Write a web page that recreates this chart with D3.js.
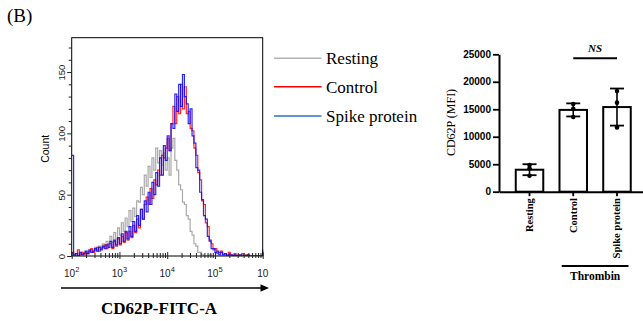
<!DOCTYPE html>
<html>
<head>
<meta charset="utf-8">
<script src="https://cdn.jsdelivr.net/npm/d3@7"></script>
<style>
  body { margin: 0; background: #fff; }
  svg { display: block; }
</style>
</head>
<body>
<svg id="chart" width="643" height="321"></svg>
<script>
// ── data ──────────────────────────────────────────────
// histogram bins: log10(FITC) from 2.00 in steps of 0.04 (101 bins)
const HIST_START = 2;
const HIST_STEP = 0.04;

const restingCounts = [
  2, 0, 1, 0, 2, 1, 3, 2, 4, 3,
  5, 4, 7, 5, 8, 7, 10, 8, 12, 9,
  16, 11, 19, 14, 23, 17, 27, 20, 31, 24,
  37, 28, 39, 32, 45, 44, 56, 50, 66, 57,
  73, 64, 80, 70, 88, 76, 86, 74, 84, 70,
  80, 66, 88, 96, 78, 70, 58, 54, 44, 42,
  33, 30, 20, 17, 10, 8, 3, 3, 1, 0,
  0, 0, 1, 0, 0, 0, 0, 0, 0, 0,
  0, 0, 0, 0, 0, 0, 0, 0, 0, 0,
  0, 0, 0, 0, 0, 0, 0, 0, 0, 0,
  0
];
const controlCounts = [
  3, 0, 2, 5, 1, 3, 1, 3, 2, 4,
  6, 3, 5, 7, 4, 6, 7, 9, 6, 10,
  10, 6, 12, 8, 14, 9, 16, 11, 19, 13,
  20, 15, 25, 19, 30, 23, 38, 30, 42, 48,
  42, 55, 47, 62, 58, 70, 66, 82, 80, 88,
  96, 86, 108, 122, 108, 130, 116, 140, 120, 138,
  116, 118, 104, 102, 88, 82, 68, 62, 45, 42,
  27, 24, 12, 10, 5, 6, 2, 3, 4, 1,
  2, 1, 3, 1, 0, 2, 0, 1, 0, 2,
  0, 1, 0, 0, 0, 0, 0, 0, 0, 0,
  1
];
const spikeCounts = [
  82, 1, 2, 0, 3, 1, 2, 4, 2, 5,
  3, 4, 6, 4, 7, 5, 8, 6, 9, 7,
  12, 7, 13, 9, 15, 10, 18, 12, 20, 14,
  24, 16, 28, 20, 33, 25, 38, 30, 45, 36,
  52, 42, 60, 50, 68, 57, 80, 66, 90, 78,
  98, 86, 108, 104, 132, 118, 140, 122, 148, 130,
  124, 108, 120, 98, 92, 72, 70, 52, 46, 33,
  30, 16, 13, 6, 6, 3, 4, 1, 3, 1,
  2, 0, 1, 1, 0, 1, 0, 0, 1, 0,
  0, 0, 1, 0, 0, 0, 0, 0, 0, 0,
  5
];
const histDecades = [2, 3, 4, 5, 6];
const histCountTicks = [0, 50, 100, 150];

// bar chart (MFI, three replicates each)
const groups = ['Resting', 'Control', 'Spike protein'];
const restingMFI = [4850, 4250, 2900];
const controlMFI = [15950, 15100, 13600];
const spikeMFI = [18300, 16200, 11700];
const mfiTicks = [0, 5000, 10000, 15000, 20000, 25000];

// ── setup ─────────────────────────────────────────────
const SERIF = '"Liberation Serif","Times New Roman",serif';
const SANS = '"Liberation Sans",Arial,sans-serif';
const svg = d3.select('#chart');

svg.append('text')
  .attr('x', 7).attr('y', 21.5)
  .style('font-family', SERIF).style('font-size', '19px')
  .text('(B)');

// ── histogram ─────────────────────────────────────────
const H = { left: 71.7, right: 262.7, top: 37.7, bottom: 256 };
const xH = d3.scaleLog().domain([1e2, 1e6]).range([H.left, H.right]);
const yH = d3.scaleLinear().domain([0, 178]).range([H.bottom, H.top]);

svg.append('clipPath').attr('id', 'hclip')
  .append('rect')
  .attr('x', H.left).attr('y', H.top - 2)
  .attr('width', H.right - H.left + 1).attr('height', H.bottom - H.top + 2);

const series = [
  { name: 'Resting', counts: restingCounts, color: '#a0a0a0', legend: '#b3b3b3' },
  { name: 'Control', counts: controlCounts, color: '#ff1010', legend: '#ff0000' },
  { name: 'Spike protein', counts: spikeCounts, color: '#1010ff', legend: '#2a72c8' },
];

const histLine = d3.line()
  .x((d, i) => xH(Math.pow(10, HIST_START + i * HIST_STEP)))
  .y(d => yH(d))
  .curve(d3.curveStepAfter);

svg.append('g').attr('clip-path', 'url(#hclip)')
  .selectAll('path')
  .data(series)
  .join('path')
  .attr('d', d => histLine(d.counts))
  .attr('fill', 'none')
  .attr('stroke', d => d.color)
  .attr('stroke-width', 1.2)
  .attr('stroke-opacity', 0.9);

// frame
svg.append('rect')
  .attr('x', H.left).attr('y', H.top)
  .attr('width', H.right - H.left).attr('height', H.bottom - H.top)
  .attr('fill', 'none').attr('stroke', '#000').attr('stroke-width', 1);

// y axis (count)
const yAxisH = d3.axisLeft(yH)
  .tickValues(d3.range(0, 171, 10))
  .tickSizeOuter(0)
  .tickFormat(d => histCountTicks.includes(d) ? d : '');
const gyH = svg.append('g')
  .attr('transform', `translate(${H.left},0)`)
  .call(yAxisH);
gyH.select('.domain').remove();
gyH.selectAll('.tick line')
  .attr('x2', d => histCountTicks.includes(d) ? -4.5 : -3)
  .attr('stroke', '#222');
gyH.selectAll('.tick text')
  .attr('transform', 'rotate(-90)')
  .attr('x', 0).attr('y', -7).attr('dy', 0)
  .attr('text-anchor', 'middle')
  .style('font-family', SANS).style('font-size', '9.5px').attr('fill', '#222');

svg.append('text')
  .attr('transform', `translate(48.5,${(H.top + H.bottom) / 2 + 2}) rotate(-90)`)
  .attr('text-anchor', 'middle')
  .style('font-family', SANS).style('font-size', '10.5px')
  .text('Count');

// x axis (log)
const minorVals = [];
histDecades.slice(0, -1).forEach(p => {
  for (let k = 1; k <= 9; k++) minorVals.push(k * Math.pow(10, p));
});
minorVals.push(1e6);
const isMajor = v => Math.abs(Math.log10(v) - Math.round(Math.log10(v))) < 1e-9;

const gxH = svg.append('g')
  .attr('transform', `translate(0,${H.bottom})`)
  .call(d3.axisBottom(xH).tickValues(minorVals).tickSizeOuter(0).tickFormat(''));
gxH.select('.domain').remove();
gxH.selectAll('.tick line')
  .attr('y1', d => isMajor(d) ? -4 : -3)
  .attr('y2', d => isMajor(d) ? 3 : 2)
  .attr('stroke', '#222');

const xLab = svg.append('g');
histDecades.forEach(p => {
  const t = xLab.append('text')
    .attr('x', xH(Math.pow(10, p)))
    .attr('y', 276.5)
    .attr('text-anchor', 'middle')
    .style('font-family', SANS).style('font-size', '10px').attr('fill', '#222');
  t.append('tspan').text('10');
  if (p < 6) t.append('tspan').attr('dy', -4.5).style('font-size', '7.5px').text(p);
});

// arrow + title
svg.append('line')
  .attr('x1', 61).attr('x2', 263).attr('y1', 288).attr('y2', 288)
  .attr('stroke', '#000').attr('stroke-width', 1.3);
svg.append('path')
  .attr('d', 'M269,288 L260.5,284.3 L260.5,291.7 Z')
  .attr('fill', '#000');
svg.append('text')
  .attr('x', 159).attr('y', 313.5)
  .attr('text-anchor', 'middle')
  .style('font-family', SERIF).style('font-size', '17px').style('font-weight', 'bold')
  .text('CD62P-FITC-A');

// legend
const legendY = [58.3, 86.7, 116];
const leg = svg.append('g').selectAll('g')
  .data(series).join('g')
  .attr('transform', (d, i) => `translate(274,${legendY[i]})`);
leg.append('line')
  .attr('x1', 0).attr('x2', 47.5)
  .attr('stroke', d => d.legend).attr('stroke-width', 1.6);
leg.append('text')
  .attr('x', 52).attr('y', 5.8)
  .style('font-family', SERIF).style('font-size', '17px')
  .text(d => d.name);

// ── bar chart ─────────────────────────────────────────
const B = { left: 499, right: 647.5, top: 54.3, bottom: 191.7 };
const xB = d3.scaleBand().domain(groups).range([B.left, B.right])
  .paddingInner(0.371).paddingOuter(0.383);
const yB = d3.scaleLinear().domain([0, 25000]).range([B.bottom, B.top]);

const barData = [restingMFI, controlMFI, spikeMFI].map((pts, i) => ({
  group: groups[i],
  pts,
  mean: d3.mean(pts),
  sd: d3.deviation(pts),
}));

const gyB = svg.append('g')
  .attr('transform', `translate(${B.left},0)`)
  .call(d3.axisLeft(yB).tickValues(mfiTicks).tickFormat(d3.format('d'))
    .tickSize(6).tickSizeOuter(0).tickPadding(2));
gyB.select('.domain').attr('stroke-width', 2);
gyB.selectAll('.tick line').attr('stroke-width', 1.8);
gyB.selectAll('.tick text')
  .style('font-family', SANS).style('font-size', '10px').style('font-weight', 'bold');

const gxB = svg.append('g')
  .attr('transform', `translate(0,${B.bottom})`)
  .call(d3.axisBottom(xB).tickSize(4.5).tickSizeOuter(0));
gxB.select('.domain').attr('stroke-width', 2);
gxB.selectAll('.tick line').attr('stroke-width', 1.8);
gxB.selectAll('.tick text')
  .attr('transform', 'rotate(-90)')
  .attr('text-anchor', 'end')
  .attr('x', -6.5).attr('y', 3.5).attr('dy', 0)
  .style('font-family', SERIF).style('font-size', '10.5px').style('font-weight', 'bold');

svg.append('text')
  .attr('transform', `translate(455,${(B.top + B.bottom) / 2 - 0.5}) rotate(-90)`)
  .attr('text-anchor', 'middle')
  .style('font-family', SERIF).style('font-size', '12px')
  .text('CD62P (MFI)');

const bars = svg.append('g').selectAll('g').data(barData).join('g');
bars.append('rect')
  .attr('x', d => xB(d.group))
  .attr('y', d => yB(d.mean))
  .attr('width', xB.bandwidth())
  .attr('height', d => yB(0) - yB(d.mean))
  .attr('fill', '#fff').attr('stroke', '#000').attr('stroke-width', 2);

const cx = d => xB(d.group) + xB.bandwidth() / 2;
bars.append('line')
  .attr('x1', cx).attr('x2', cx)
  .attr('y1', d => yB(d.mean + d.sd)).attr('y2', d => yB(d.mean - d.sd))
  .attr('stroke', '#000').attr('stroke-width', 1.6);
['+', '-'].forEach(s => {
  bars.append('line')
    .attr('x1', d => cx(d) - 7).attr('x2', d => cx(d) + 7)
    .attr('y1', d => yB(s === '+' ? d.mean + d.sd : d.mean - d.sd))
    .attr('y2', d => yB(s === '+' ? d.mean + d.sd : d.mean - d.sd))
    .attr('stroke', '#000').attr('stroke-width', 1.8);
});
bars.selectAll('circle')
  .data(d => d.pts.map(v => ({ v, x: cx(d) })))
  .join('circle')
  .attr('cx', p => p.x).attr('cy', p => yB(p.v)).attr('r', 2.3)
  .attr('fill', '#000');

// NS bracket
const cCtrl = xB('Control') + xB.bandwidth() / 2;
const cSpike = xB('Spike protein') + xB.bandwidth() / 2;
svg.append('line')
  .attr('x1', cCtrl).attr('x2', cSpike).attr('y1', 58.3).attr('y2', 58.3)
  .attr('stroke', '#000').attr('stroke-width', 2);
svg.append('text')
  .attr('x', (cCtrl + cSpike) / 2).attr('y', 51.5)
  .attr('text-anchor', 'middle')
  .style('font-family', SERIF).style('font-size', '11px')
  .style('font-weight', 'bold').style('font-style', 'italic')
  .text('NS');

// Thrombin group line
svg.append('line')
  .attr('x1', cCtrl - 11.5).attr('x2', cSpike + 11.5).attr('y1', 266).attr('y2', 266)
  .attr('stroke', '#000').attr('stroke-width', 2);
svg.append('text')
  .attr('x', (cCtrl + cSpike) / 2).attr('y', 279.5)
  .attr('text-anchor', 'middle')
  .style('font-family', SERIF).style('font-size', '11.5px').style('font-weight', 'bold')
  .text('Thrombin');
</script>
</body>
</html>
